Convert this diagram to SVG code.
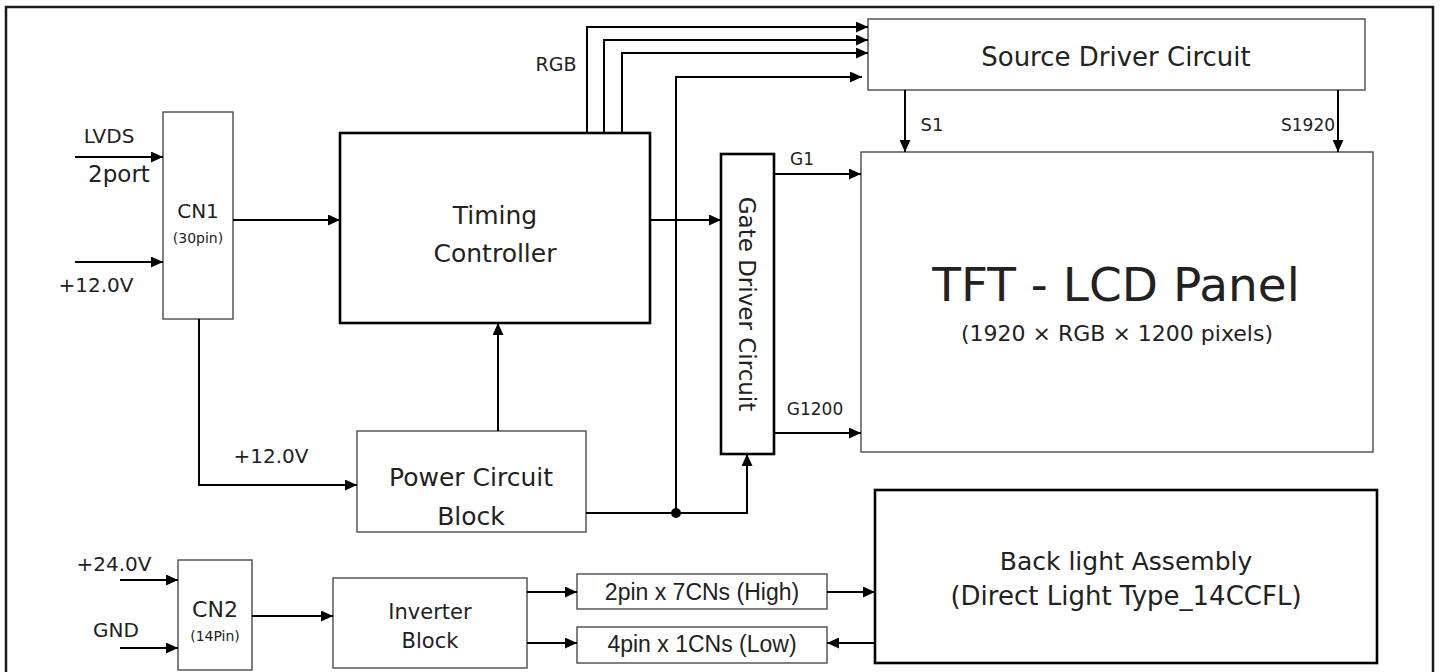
<svg xmlns="http://www.w3.org/2000/svg" width="1440" height="672" viewBox="0 0 1440 672">
<defs>
<marker id="ah" markerUnits="userSpaceOnUse" markerWidth="13" markerHeight="11" refX="12" refY="5.5" orient="auto">
<path d="M0,0 L12,5.5 L0,11 Z" fill="#000"/>
</marker>
<style>
.thin{fill:#fff;stroke:#4a4a4a;stroke-width:1.4}
.thick{fill:#fff;stroke:#000;stroke-width:2.6}
.t{font-family:"DejaVu Sans",Verdana,sans-serif;fill:#222;text-anchor:middle}
.a{font-family:"Liberation Sans",Arial,sans-serif;fill:#222;text-anchor:middle}
.c{fill:none;stroke:#000;stroke-width:2}
.arr{marker-end:url(#ah)}
</style>
</defs>
<rect x="0" y="0" width="1440" height="672" fill="#fff"/>
<rect id="frame" x="6" y="7" width="1427" height="720" fill="none" stroke="#1a1a1a" stroke-width="2.5"/>

<g id="cn1"><rect class="thin" x="163" y="112" width="70" height="207"/>
<text class="t" x="198" y="218" font-size="20">CN1</text>
<text class="t" x="198" y="243" font-size="14">(30pin)</text></g>

<g id="timing"><rect class="thick" x="340" y="133" width="310" height="190"/>
<text class="t" x="495" y="224" font-size="25">Timing</text>
<text class="t" x="495" y="262" font-size="25">Controller</text></g>

<g id="source"><rect class="thin" x="868" y="19" width="497" height="71"/>
<text class="t" x="1116" y="66" font-size="26">Source Driver Circuit</text></g>

<g id="gate"><rect class="thick" x="721" y="154" width="53" height="300"/>
<text class="t" font-size="23" transform="translate(747,304) rotate(90)" x="0" y="8">Gate Driver Circuit</text></g>

<g id="panel"><rect class="thin" x="861" y="152" width="512" height="300"/>
<text class="t" x="1116" y="301" font-size="47">TFT - LCD Panel</text>
<text class="t" x="1117" y="341" font-size="22">(1920 × RGB × 1200 pixels)</text></g>

<g id="power"><rect class="thin" x="357" y="431" width="229" height="101"/>
<text class="t" x="471" y="486" font-size="25">Power Circuit</text>
<text class="t" x="471" y="525" font-size="25">Block</text></g>

<g id="cn2"><rect class="thin" x="178" y="560" width="74" height="110"/>
<text class="t" x="215" y="617" font-size="22">CN2</text>
<text class="t" x="215" y="641" font-size="14">(14Pin)</text></g>

<g id="inverter"><rect class="thin" x="333" y="578" width="194" height="90"/>
<text class="t" x="430" y="619" font-size="21">Inverter</text>
<text class="t" x="430" y="648" font-size="21">Block</text></g>

<g id="pin2"><rect class="thin" x="577" y="574" width="250" height="35"/>
<text class="a" x="702" y="600" font-size="23">2pin x 7CNs (High)</text></g>

<g id="pin4"><rect class="thin" x="577" y="627" width="250" height="36"/>
<text class="a" x="702" y="652" font-size="23">4pin x 1CNs (Low)</text></g>

<g id="backlight"><rect class="thick" x="875" y="490" width="502" height="173" stroke-width="3"/>
<text class="t" x="1126" y="570" font-size="25">Back light Assembly</text>
<text class="t" x="1126" y="605" font-size="26">(Direct Light Type_14CCFL)</text></g>

<g id="connectors">
<path class="c arr" d="M75,157 H163"/>
<path class="c arr" d="M75,262 H163"/>
<path class="c arr" d="M233,220 H340"/>
<path class="c arr" d="M199,319 V485 H357"/>
<path class="c arr" d="M498,431 V323"/>
<path class="c arr" d="M586,513 H747 V454"/>
<path class="c arr" d="M676,513 V77 H862"/>
<circle cx="676" cy="513" r="5" fill="#000"/>
<path class="c arr" d="M587,133 V27 H868"/>
<path class="c arr" d="M604,133 V40 H868"/>
<path class="c arr" d="M622,133 V53 H868"/>
<path class="c arr" d="M650,220 H721"/>
<path class="c arr" d="M774,174 H861"/>
<path class="c arr" d="M774,433 H861"/>
<path class="c arr" d="M905,90 V152"/>
<path class="c arr" d="M1338,90 V152"/>
<path class="c arr" d="M120,580 H178"/>
<path class="c arr" d="M120,648 H178"/>
<path class="c arr" d="M252,616 H333"/>
<path class="c arr" d="M527,592 H577"/>
<path class="c arr" d="M527,643 H577"/>
<path class="c arr" d="M827,592 H875"/>
<path class="c arr" d="M875,643 H827"/>
</g>

<g id="labels">
<text class="t" x="109" y="143" font-size="20">LVDS</text>
<text class="t" x="119" y="182" font-size="23">2port</text>
<text class="t" x="96" y="292" font-size="20">+12.0V</text>
<text class="t" x="556" y="71" font-size="19">RGB</text>
<text class="t" x="932" y="131" font-size="18">S1</text>
<text class="t" x="1308" y="131" font-size="17">S1920</text>
<text class="t" x="802" y="165" font-size="17">G1</text>
<text class="t" x="815" y="415" font-size="17">G1200</text>
<text class="t" x="271" y="463" font-size="20">+12.0V</text>
<text class="t" x="114" y="571" font-size="20">+24.0V</text>
<text class="t" x="116" y="637" font-size="20">GND</text>
</g>
</svg>
